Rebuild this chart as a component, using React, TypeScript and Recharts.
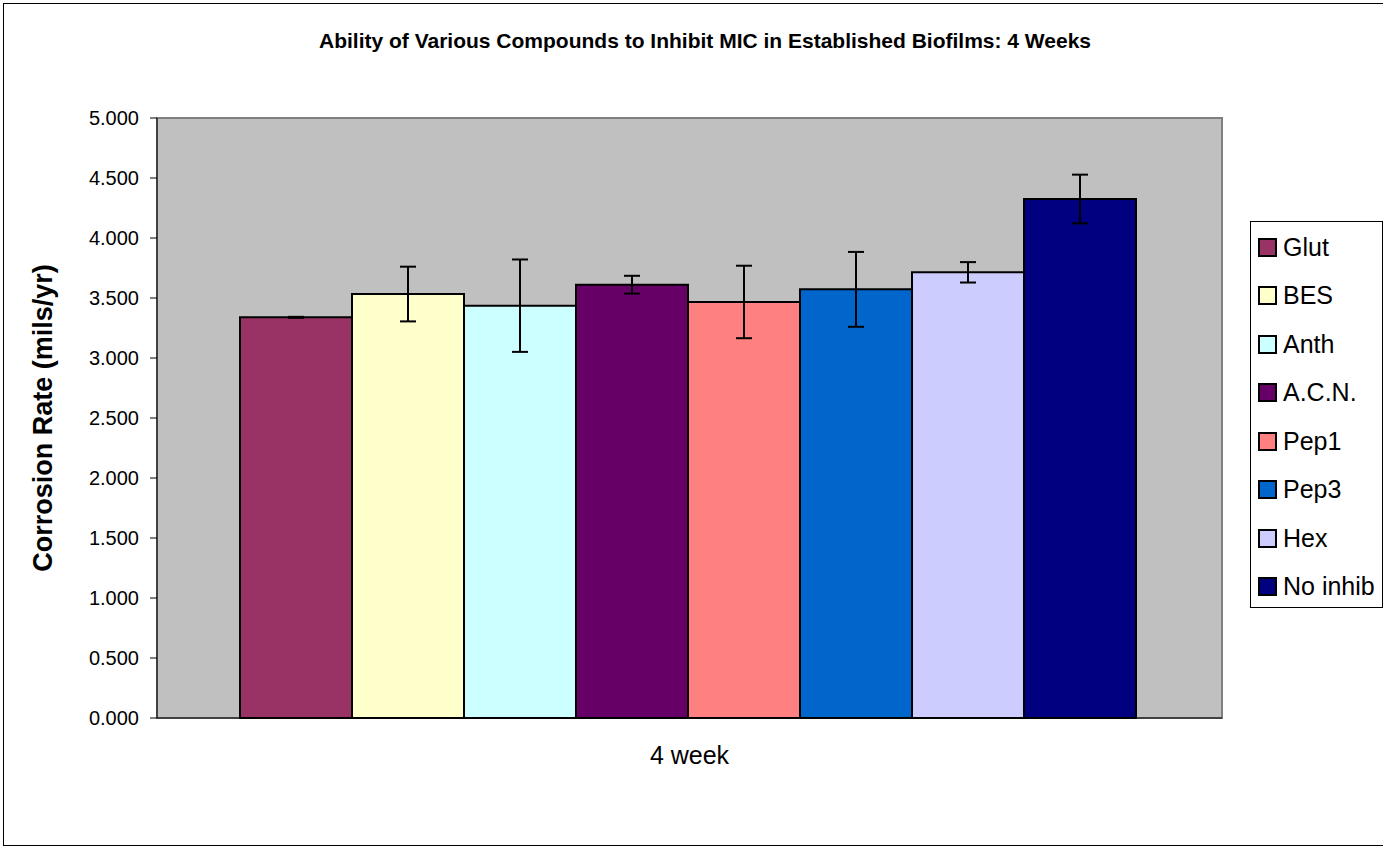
import { BarChart, Bar, XAxis, YAxis, CartesianGrid, ErrorBar, ReferenceArea, Label } from "recharts";

const chartTitle = "Ability of Various Compounds to Inhibit MIC in Established Biofilms: 4 Weeks";
const yTitle = "Corrosion Rate (mils/yr)";
const category = "4 week";

const compounds = ["Glut", "BES", "Anth", "A.C.N.", "Pep1", "Pep3", "Hex", "No inhib"];
const rates = [3.339, 3.533, 3.436, 3.611, 3.467, 3.572, 3.714, 4.325];
const errors = [0.004, 0.228, 0.385, 0.074, 0.302, 0.312, 0.085, 0.203];
const colors = ["#993366", "#FFFFCC", "#CCFFFF", "#660066", "#FF8080", "#0066CC", "#CCCCFF", "#000080"];
const yTicks = [0, 0.5, 1, 1.5, 2, 2.5, 3, 3.5, 4, 4.5, 5];

const FONT = "'Liberation Sans', Arial, sans-serif";

// one row, one key per compound (value + error)
const row: Record<string, string | number> = { name: category };
compounds.forEach((_, i) => {
  row[`v${i}`] = rates[i];
  row[`e${i}`] = errors[i];
});
const data = [row];

function YTitle(props: any) {
  const { viewBox } = props;
  const cx = viewBox.x + 43;
  const cy = viewBox.y + viewBox.height / 2;
  return (
    <text
      x={cx}
      y={cy}
      transform={`rotate(-90, ${cx}, ${cy})`}
      textAnchor="middle"
      dominantBaseline="central"
      fontFamily={FONT}
      fontWeight="bold"
      fontSize={27}
      fill="#000"
    >
      {yTitle}
    </text>
  );
}

export default function App() {
  return (
    <div style={{ position: "absolute", left: 0, top: 0, width: 1383, height: 846, overflow: "hidden", background: "#fff" }}>
      <div
        style={{
          position: "absolute",
          left: 3,
          top: 3,
          width: 1420,
          height: 841,
          border: "1px solid #000",
        }}
      />
      <div
        style={{
          position: "absolute",
          left: 0,
          top: 30,
          width: 1410,
          textAlign: "center",
          fontFamily: FONT,
          fontWeight: "bold",
          fontSize: 21,
          lineHeight: "21px",
          color: "#000",
        }}
      >
        {chartTitle}
      </div>

      <div style={{ position: "absolute", left: 0, top: 0 }}>
        <BarChart
          width={1383}
          height={846}
          data={data}
          margin={{ top: 118, right: 161, bottom: 68, left: 0 }}
          barCategoryGap={83}
          barGap={0}
        >
          <CartesianGrid horizontal={false} vertical={false} fill="#C0C0C0" />
          <ReferenceArea y1={0} y2={5} fill="none" stroke="#808080" strokeWidth={2} ifOverflow="visible" />
          <XAxis
            dataKey="name"
            height={60}
            axisLine={{ stroke: "#000", strokeWidth: 1 }}
            tickLine={false}
            tickSize={0}
            tickMargin={28}
            tick={{ fontFamily: FONT, fontSize: 25, fill: "#000" }}
          />
          <YAxis
            width={157}
            domain={[0, 5]}
            ticks={yTicks}
            interval={0}
            tickFormatter={(v: number) => v.toFixed(3)}
            axisLine={{ stroke: "#000", strokeWidth: 1 }}
            tickLine={{ stroke: "#000", strokeWidth: 1 }}
            tickSize={7}
            tickMargin={11}
            tick={{ fontFamily: FONT, fontSize: 20, fill: "#000" }}
          >
            <Label content={<YTitle />} />
          </YAxis>
          {compounds.map((name, i) => (
            <Bar
              key={name}
              dataKey={`v${i}`}
              name={name}
              fill={colors[i]}
              stroke="#000"
              strokeWidth={2}
              isAnimationActive={false}
            >
              <ErrorBar dataKey={`e${i}`} direction="y" width={8} stroke="#000" strokeWidth={2} />
            </Bar>
          ))}
        </BarChart>
      </div>

      <div
        style={{
          position: "absolute",
          left: 1250,
          top: 221,
          width: 131,
          height: 385,
          border: "1px solid #000",
          background: "#fff",
          fontFamily: FONT,
          fontSize: 25,
          color: "#000",
        }}
      >
        {compounds.map((name, i) => (
          <div
            key={name}
            style={{ position: "absolute", left: 7, top: 6 + i * 48.5, height: 38, display: "flex", alignItems: "center" }}
          >
            <span
              style={{
                display: "inline-block",
                width: 15,
                height: 15,
                background: colors[i],
                border: "2px solid #000",
                marginRight: 6,
              }}
            />
            <span style={{ whiteSpace: "nowrap" }}>{name}</span>
          </div>
        ))}
      </div>
    </div>
  );
}
